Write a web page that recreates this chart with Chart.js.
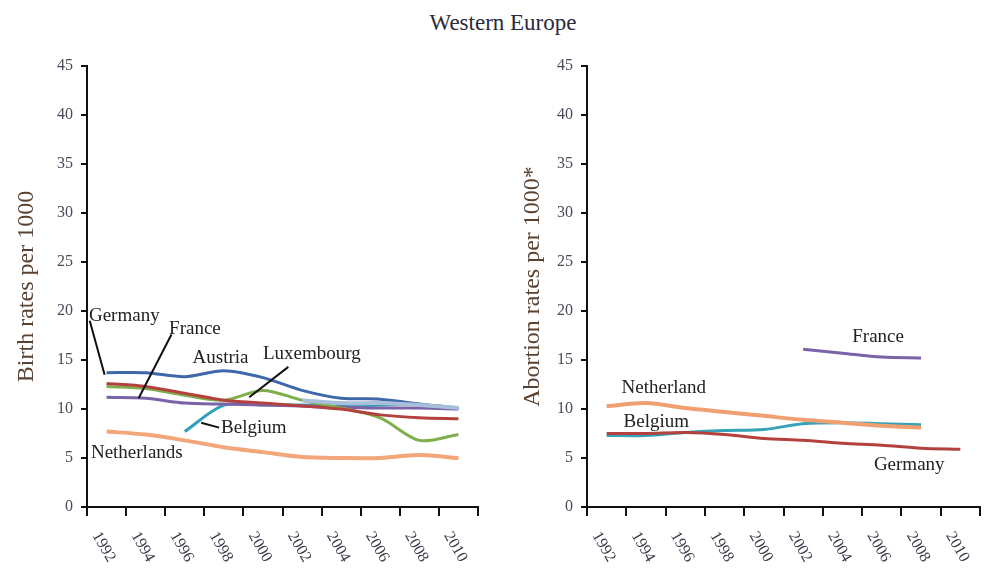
<!DOCTYPE html>
<html>
<head>
<meta charset="utf-8">
<script src="https://cdn.jsdelivr.net/npm/chart.js@4.4.1/dist/chart.umd.min.js"></script>
<style>
  html, body { margin: 0; padding: 0; background: #fff; }
  #wrap { position: relative; width: 988px; height: 572px; overflow: hidden; }
  #title { position: absolute; left: 0; top: 10px; width: 1006px; text-align: center;
           font: 23px "Liberation Serif", "Times New Roman", serif; color: #2a2a3a; }
  canvas { position: absolute; top: 0; }
  #births { left: 0; }
  #abortions { left: 500px; }
</style>
</head>
<body>
<div id="wrap">
  <div id="title">Western Europe</div>
  <canvas id="births" width="490" height="572"></canvas>
  <canvas id="abortions" width="488" height="572"></canvas>
</div>
<script>
// Survey years on the horizontal axis
const years = ['1992', '1994', '1996', '1998', '2000', '2002', '2004', '2006', '2008', '2010'];
const yTicks = [0, 5, 10, 15, 20, 25, 30, 35, 40, 45];

// Birth rates per 1000
const birthAustria     = [13.7, 13.7, 13.3, 13.9, 13.2, 11.9, 11.1, 11.0, 10.5, 10.1];
const birthGermany     = [12.6, 12.3, 11.6, 10.9, 10.6, 10.3, 10.0, 9.4, 9.1, 9.0];
const birthLuxembourg  = [12.3, 12.1, 11.4, 10.9, 11.9, 10.9, 10.1, 9.1, 6.8, 7.4];
const birthFrance      = [11.2, 11.1, 10.6, 10.5, 10.4, 10.3, 10.2, 10.1, 10.1, 10.0];
const birthBelgium     = [null, null, 7.7, 10.4, 10.4, 10.4, 10.3, 10.4, 10.5, null];
const birthSwitzerland = [null, null, null, null, null, 10.9, 10.6, 10.6, 10.4, 10.1];
const birthNetherlands = [7.7, 7.4, 6.8, 6.1, 5.6, 5.1, 5.0, 5.0, 5.3, 5.0];

// Abortion rates per 1000
const abortNetherlands = [10.3, 10.6, 10.1, 9.7, 9.3, 8.9, 8.6, 8.3, 8.1, null];
const abortBelgium     = [7.3, 7.3, 7.6, 7.8, 7.9, 8.5, 8.6, 8.5, 8.4, null];
const abortGermany     = [7.5, 7.5, 7.6, 7.4, 7.0, 6.8, 6.5, 6.3, 6.0, 5.9];
const abortFrance      = [null, null, null, null, null, 16.1, 15.7, 15.3, 15.2, null];

const SERIF = '"Liberation Serif", "Times New Roman", serif';

// Country name tags: anchor given as (category index, rate), optional leader line
const birthTags = [
  { text: 'Germany', at: [-0.45, 19.5], line: [[-0.43, 19.0], [-0.05, 13.5]] },
  { text: 'France', at: [1.6, 18.2], line: [[1.66, 17.6], [0.82, 11.1]] },
  { text: 'Austria', at: [2.2, 15.2] },
  { text: 'Luxembourg', at: [4.0, 15.6], line: [[4.65, 14.3], [3.65, 11.2]] },
  { text: 'Belgium', at: [2.93, 8.1], line: [[2.42, 8.6], [2.88, 8.1]] },
  { text: 'Netherlands', at: [-0.4, 5.5] }
];
const abortTags = [
  { text: 'France', at: [6.25, 17.3] },
  { text: 'Netherland', at: [0.38, 12.1] },
  { text: 'Belgium', at: [0.43, 8.7] },
  { text: 'Germany', at: [6.8, 4.3] }
];

function series(label, data, color, width) {
  return {
    label, data,
    borderColor: color, backgroundColor: color,
    borderWidth: width || 3, pointRadius: 0, tension: 0.3,
    spanGaps: false, fill: false
  };
}

// Draws rotated year labels under the x axis and the country tags with leader lines
function decorPlugin(tags) {
  return {
    id: 'decor',
    afterDatasetsDraw(chart) {
      const ctx = chart.ctx;
      const xs = chart.scales.x, ys = chart.scales.y;
      const px = i => {
        const a = xs.getPixelForValue(0), b = xs.getPixelForValue(1);
        return a + (b - a) * i;
      };
      ctx.save();
      ctx.strokeStyle = '#111';
      ctx.lineWidth = 2;
      ctx.fillStyle = '#222';
      ctx.font = '19px ' + SERIF;
      ctx.textBaseline = 'middle';
      ctx.textAlign = 'left';
      tags.forEach(t => {
        if (t.line) {
          ctx.beginPath();
          ctx.moveTo(px(t.line[0][0]), ys.getPixelForValue(t.line[0][1]));
          ctx.lineTo(px(t.line[1][0]), ys.getPixelForValue(t.line[1][1]));
          ctx.stroke();
        }
        ctx.fillText(t.text, px(t.at[0]), ys.getPixelForValue(t.at[1]));
      });
      ctx.restore();
    },
    afterDraw(chart) {
      const ctx = chart.ctx;
      const xs = chart.scales.x;
      ctx.save();
      ctx.fillStyle = '#3a3a4a';
      ctx.font = '16px ' + SERIF;
      ctx.textAlign = 'center';
      ctx.textBaseline = 'middle';
      chart.data.labels.forEach((lab, i) => {
        const x = xs.getPixelForValue(i);
        ctx.save();
        ctx.translate(x - 3, xs.top + 40);
        ctx.rotate(Math.PI / 3);
        ctx.fillText(lab, 0, 0);
        ctx.restore();
      });
      ctx.restore();
    }
  };
}

function makeChart(id, datasets, tags, yTitle, titlePad, rightPad) {
  return new Chart(document.getElementById(id), {
    type: 'line',
    data: { labels: years, datasets },
    options: {
      responsive: false,
      animation: false,
      devicePixelRatio: 1,
      layout: { padding: { left: 0, right: rightPad, top: 66, bottom: 0 } },
      plugins: { legend: { display: false }, tooltip: { enabled: false } },
      scales: {
        x: {
          type: 'category',
          offset: true,
          grid: { display: true, drawOnChartArea: false, offset: true, color: '#111', lineWidth: 2, tickLength: 9 },
          border: { display: true, color: '#111', width: 2 },
          ticks: { display: false },
          afterFit(scale) { scale.height = 65; }
        },
        y: {
          min: 0, max: 45,
          afterBuildTicks(scale) { scale.ticks = yTicks.map(v => ({ value: v })); },
          grid: { display: true, drawOnChartArea: false, color: '#111', lineWidth: 2, tickLength: 6 },
          border: { display: true, color: '#111', width: 2 },
          ticks: { font: { family: SERIF, size: 16 }, color: '#4a4a5a', padding: 8 },
          title: { display: true, text: yTitle, color: '#5a4232',
                   font: { family: SERIF, size: 24 }, padding: { top: titlePad, bottom: 0 } },
          afterFit(scale) { scale.width = 87; }
        }
      }
    },
    plugins: [decorPlugin(tags)]
  });
}

makeChart('births', [
  series('Switzerland', birthSwitzerland, '#a9bedb', 4),
  series('Austria', birthAustria, '#3f68aa', 3),
  series('Germany', birthGermany, '#b3423f', 3),
  series('Luxembourg', birthLuxembourg, '#7fae4c', 3),
  series('France', birthFrance, '#7a63a6', 3),
  series('Belgium', birthBelgium, '#2fa0b9', 3),
  series('Netherlands', birthNetherlands, '#f2a67a', 4)
], birthTags, 'Birth rates per 1000', 12, 12);

makeChart('abortions', [
  series('Netherlands', abortNetherlands, '#f0a070', 4),
  series('Germany', abortGermany, '#b3423f', 3),
  series('Belgium', abortBelgium, '#34a3b8', 3),
  series('France', abortFrance, '#7a63a6', 3)
], abortTags, 'Abortion rates per 1000*', 18, 8);
</script>
</body>
</html>
